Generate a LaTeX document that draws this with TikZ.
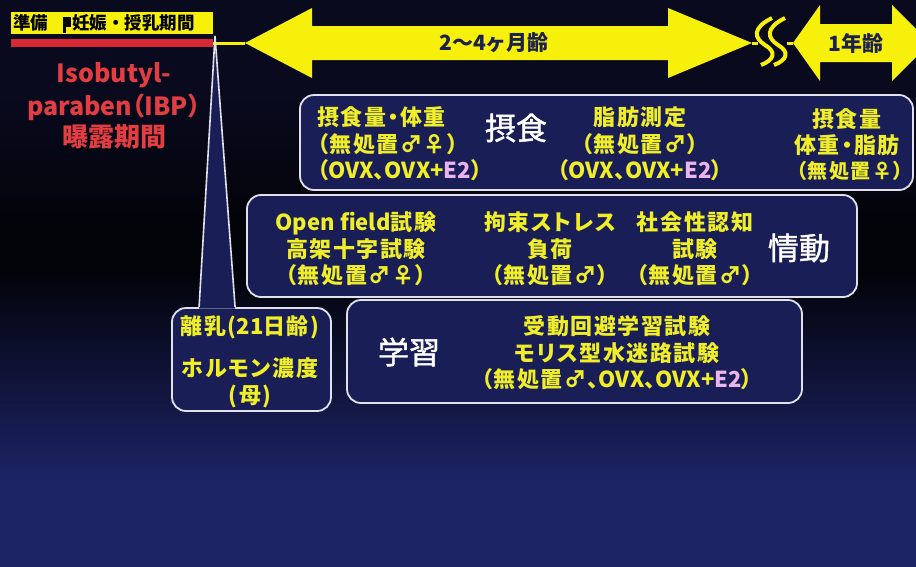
\documentclass[tikz,border=0pt]{standalone}
\usepackage{fontspec}
\setmainfont{Noto Sans CJK JP}
\newfontfamily\yfont{Noto Sans CJK JP}[LetterSpace=7,RawFeature=+palt]
\newfontfamily\pfont{Noto Sans CJK JP}[RawFeature=+palt]
\newfontfamily\wfont{Noto Sans CJK JP}[FakeBold=1.3]
\newcommand\lt[1]{{\addfontfeature{LetterSpace=0}#1}}
\usetikzlibrary{calc}
\definecolor{bgtop}{RGB}{9,10,30}
\definecolor{bgdark}{RGB}{3,3,10}
\definecolor{bgbot}{RGB}{28,36,102}
\definecolor{boxfill}{RGB}{26,30,86}
\definecolor{ylw}{RGB}{240,238,40}
\definecolor{arrowy}{RGB}{246,240,10}
\definecolor{pinkE}{RGB}{236,180,236}
\definecolor{redt}{RGB}{226,62,66}
\definecolor{redbarc}{RGB}{216,40,52}
\definecolor{txtnavy}{RGB}{28,32,78}
\definecolor{edge}{RGB}{225,225,235}
\newcommand\etwo{{\color{pinkE}E2}}
\tikzset{
 panel/.style={draw=edge, line width=1.8pt, fill=boxfill, rounded corners=14pt, inner sep=0pt},
 ytxt/.style={text=ylw, font=\yfont\bfseries\fontsize{22}{26.5}\selectfont, align=center, inner sep=0pt},
 wlabel/.style={text=white, font=\wfont\fontsize{31}{34}\selectfont, inner sep=0pt},
 redtxt/.style={text=redt, font=\pfont\bfseries\fontsize{25}{32}\selectfont, inner sep=0pt, anchor=base},
 arrowtxt/.style={text=txtnavy, font=\bfseries\fontsize{21}{24}\selectfont, inner sep=0pt},
 toptxt/.style={text=black, font=\bfseries\fontsize{17.5}{20}\selectfont, inner sep=0pt, anchor=base west},
 pointer/.style={draw=edge, line width=1.6pt},
 yline/.style={draw=arrowy, line width=3pt},
 squig/.style={draw=arrowy, line width=4pt},
}
\begin{document}
\begin{tikzpicture}[x=1pt,y=-1pt]
\useasboundingbox (0,0) rectangle (916,566);
\clip (0,0) rectangle (916,566);
% background
\foreach \i in {0,...,141}{
 \pgfmathtruncatemacro\yy{\i*4}
 \pgfmathtruncatemacro\a{min(100,max(0,(\yy-90)/1.3))}
 \pgfmathtruncatemacro\b{min(100,max(0,(\yy-270)/2.1))}
 \ifnum\yy<240 \fill[bgdark!\a!bgtop] (0,\yy) rectangle (916,\yy+4.6);
 \else \fill[bgbot!\b!bgdark] (0,\yy) rectangle (916,\yy+4.6); \fi
}
% top label and red bar
\node[fill=arrowy, minimum width=202pt, minimum height=22pt, inner sep=0pt] (prep) at (112,23.3) {};
\node[toptxt] (prepa) at (13,29.5) {準備};
\node[toptxt] (prepb) at (72,29.5) {妊娠・授乳期間};
\fill[black] (63.3,16.7) rectangle (71,26.7);
\fill[black] (63.3,26.7) rectangle (65.7,33.3);
\node[fill=redbarc, minimum width=202pt, minimum height=7.4pt, inner sep=0pt] (redbar) at (112,43) {};
% red text
\node[redtxt] (ibp1) at (114,82) {Isobutyl-};
\node[redtxt] (ibp2) at (114,115) {paraben（IBP）};
\node[redtxt, font=\bfseries\fontsize{26}{32}\selectfont] (ibp3) at (114,146) {曝露期間};
% big arrow
\coordinate (bigL) at (245,43);
\coordinate (bigR) at (752,43);
\fill[arrowy] (bigL) -- (312,8) -- (312,26) -- (668,26) -- (668,8) -- (bigR) -- (668,78) -- (668,60) -- (312,60) -- (312,78) -- cycle;
\node[arrowtxt] (months) at (494,43) {2～4ヶ月齢};
\draw[yline] (redbar.east) -- (bigL);
% one year arrow
\coordinate (yrL) at (793,43);
\fill[arrowy] (yrL) -- (820,5) -- (820,24) -- (892,24) -- (892,5) -- (930,43) -- (892,81) -- (892,62) -- (820,62) -- (820,81) -- cycle;
\node[arrowtxt] (year) at (856,43) {1年齢};
% break
\coordinate (brA) at (758,43);
\coordinate (brB) at (787,43);
\draw[yline] (bigR) -- (brA);
\draw[yline] (brB) -- (yrL);
\draw[squig] (772,18) .. controls (752,28) and (754,38) .. (765,45) .. controls (777,52) and (774,60) .. (761,65);
\draw[squig] (785,18) .. controls (765,28) and (767,38) .. (778,45) .. controls (790,52) and (787,60) .. (774,65);
% panels
\node[panel, minimum width=613pt, minimum height=95pt] (eat) at (606.5,142.5) {};
\node[panel, minimum width=610pt, minimum height=102pt] (emo) at (552,246) {};
\node[panel, minimum width=455pt, minimum height=103pt] (learn) at (574.5,351.5) {};
\node[panel, minimum width=159pt, minimum height=103pt] (call) at (251.5,359.5) {};
% callout pointer
\coordinate (apex) at (215,36);
\coordinate (pl) at ($(call.north west)+(28,0)$);
\coordinate (pr) at ($(call.north west)+(64,0)$);
\fill[boxfill] (apex) -- ($(pl)+(0,1.5)$) -- ($(pr)+(0,1.5)$) -- cycle;
\draw[pointer] (apex) -- (pl);
\draw[pointer] (apex) -- (pr);
% eating panel
\node[ytxt, align=left, anchor=west] (e1) at (317,144) {摂食量・体重\\（無処置♂♀）\\（\lt{OVX}、\lt{OVX+\etwo}）};
\node[wlabel] (eatlab) at (516,128) {摂食};
\node[ytxt] (e2) at (640,144) {脂肪測定\\（無処置♂）\\（\lt{OVX}、\lt{OVX+\etwo}）};
\node[ytxt] (e3) at (847,132) {摂食量\\体重・脂肪};
\node[ytxt, font=\yfont\bfseries\fontsize{20}{26}\selectfont] (e3b) at (850,171) {（無処置♀）};
% emotion panel
\node[ytxt] (m1) at (356,249) {\lt{Open field}試験\\高架十字試験\\（無処置♂♀）};
\node[ytxt] (m2) at (550,249) {拘束ストレス\\負荷\\（無処置♂）};
\node[ytxt] (m3) at (695,249) {社会性認知\\試験\\（無処置♂）};
\node[wlabel] (emolab) at (799,248) {情動};
% learning panel
\node[wlabel] (learnlab) at (409,352) {学習};
\node[ytxt] (l1) at (617,353) {受動回避学習試験\\モリス型水迷路試験\\（無処置♂、\lt{OVX}、\lt{OVX+\etwo}）};
% callout text
\node[ytxt] (c1) at (250,327) {離乳(\lt{21}日齢)};
\node[ytxt] (c2) at (250,368) {ホルモン濃度};
\node[ytxt] (c3) at (250,396) {(母)};
\end{tikzpicture}
\end{document}
